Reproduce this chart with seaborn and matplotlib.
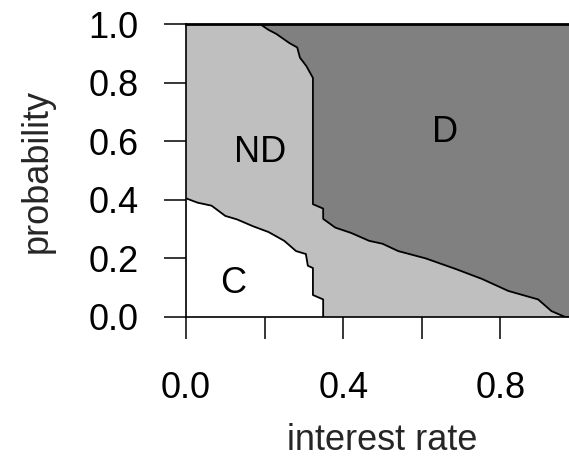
import matplotlib
matplotlib.use("Agg")
import matplotlib.pyplot as plt
import seaborn as sns
import pandas as pd

# Boundary between C (cooperation) and ND region
c_x = [0.0, 0.03, 0.065, 0.10, 0.13, 0.17, 0.21, 0.25, 0.28, 0.305, 0.31, 0.323, 0.323, 0.349, 0.349]
c_y = [0.405, 0.39, 0.38, 0.345, 0.333, 0.31, 0.29, 0.26, 0.225, 0.215, 0.175, 0.167, 0.075, 0.06, 0.0]

# Boundary between ND and D region
d_x = [0.188, 0.21, 0.23, 0.263, 0.283, 0.29, 0.306, 0.323, 0.323, 0.349, 0.349, 0.38, 0.42,
       0.466, 0.50, 0.54, 0.61, 0.686, 0.753, 0.82, 0.896, 0.93, 0.965, 1.0]
d_y = [1.0, 0.98, 0.966, 0.935, 0.92, 0.885, 0.857, 0.816, 0.385, 0.37, 0.335, 0.305, 0.287,
       0.26, 0.25, 0.225, 0.20, 0.164, 0.13, 0.089, 0.06, 0.02, 0.0, 0.0]

region_labels = ["C", "ND", "D"]
label_x = [0.12, 0.188, 0.66]
label_y = [0.116, 0.56, 0.63]

x_ticks = [0.0, 0.2, 0.4, 0.6, 0.8, 1.0]
x_ticklabels = ["0.0", "", "0.4", "", "0.8", ""]
y_ticks = [0.0, 0.2, 0.4, 0.6, 0.8, 1.0]
y_ticklabels = ["0.0", "0.2", "0.4", "0.6", "0.8", "1.0"]

sns.set_style("ticks")
plt.rcParams['font.family'] = ['Liberation Sans', 'DejaVu Sans']

W, H = 569, 457
fig = plt.figure(figsize=(W / 100, H / 100), dpi=100)
ax = fig.add_axes([186 / W, (H - 317) / H, 393 / W, 293 / H])

light = "#BFBFBF"
dark = "#808080"
ax.set_facecolor(light)

ax.fill_between(c_x, 0, c_y, color="white", lw=0, zorder=1)
ax.fill_between(d_x, d_y, 1, color=dark, lw=0, zorder=1)

dfc = pd.DataFrame({"x": c_x, "y": c_y})
dfd = pd.DataFrame({"x": d_x, "y": d_y})
sns.lineplot(data=dfc, x="x", y="y", sort=False, estimator=None, color="black", lw=1.3, ax=ax, zorder=3)
sns.lineplot(data=dfd, x="x", y="y", sort=False, estimator=None, color="black", lw=1.3, ax=ax, zorder=3)

for lab, lx, ly in zip(region_labels, label_x, label_y):
    ax.text(lx, ly, lab, ha="center", va="center", fontsize=26, color="black", zorder=4)

ax.set_xlim(0, 1)
ax.set_ylim(0, 1)
ax.set_xticks(x_ticks)
ax.set_xticklabels(x_ticklabels)
ax.set_yticks(y_ticks)
ax.set_yticklabels(y_ticklabels)
ax.tick_params(axis="both", length=16, width=1.1, labelsize=26, colors="black")
ax.tick_params(axis="x", pad=23)
ax.tick_params(axis="y", pad=18)
for s in ax.spines.values():
    s.set_visible(True)
    s.set_color("black")
    s.set_linewidth(1.2)
    s.set_zorder(5)
ax.spines["top"].set_linewidth(2)

ax.set_xlabel("interest rate", fontsize=26, labelpad=12)
ax.set_ylabel("probability", fontsize=26, labelpad=24)

fig.savefig("out.png", dpi=100)
